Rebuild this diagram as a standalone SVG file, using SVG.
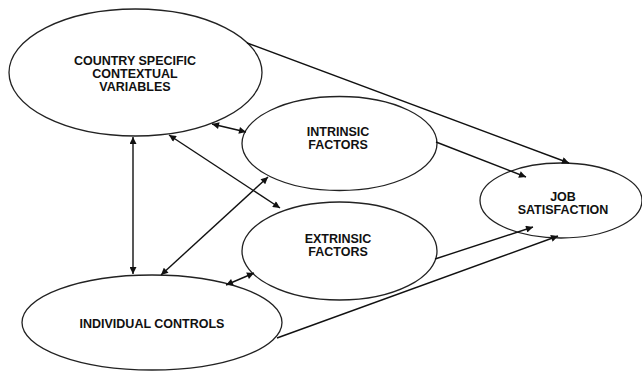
<svg xmlns="http://www.w3.org/2000/svg" width="642" height="371" viewBox="0 0 642 371">
<style>
.node ellipse{fill:#fff;stroke:#222;stroke-width:1.3}
.node text{font-family:"Liberation Sans",Arial,sans-serif;font-weight:bold;font-size:12.5px;fill:#111;text-anchor:middle}
.conn line{stroke:#111;stroke-width:1.4;fill:none}
</style>
<defs>
<marker id="ah" viewBox="0 0 10 10" refX="10" refY="5" markerWidth="8" markerHeight="7" markerUnits="userSpaceOnUse" orient="auto-start-reverse">
<path d="M0,0 L10,5 L0,10 z" fill="#111"/>
</marker>
</defs>
<rect width="642" height="371" fill="#fff"/>
<g id="n-country" class="node">
<ellipse cx="135.5" cy="72.5" rx="126.5" ry="63.5"/>
<text x="135" y="65">COUNTRY SPECIFIC</text>
<text x="135" y="78">CONTEXTUAL</text>
<text x="135" y="91">VARIABLES</text>
</g>
<g id="n-intrinsic" class="node">
<ellipse cx="339.5" cy="143.5" rx="97.5" ry="47"/>
<text x="338" y="136">INTRINSIC</text>
<text x="338" y="149">FACTORS</text>
</g>
<g id="n-extrinsic" class="node">
<ellipse cx="339.5" cy="251" rx="97.5" ry="49"/>
<text x="338" y="242.5">EXTRINSIC</text>
<text x="338" y="255.5">FACTORS</text>
</g>
<g id="n-individual" class="node">
<ellipse cx="152" cy="322.5" rx="130" ry="47.5"/>
<text x="152" y="327.5">INDIVIDUAL CONTROLS</text>
</g>
<g id="n-job" class="node">
<ellipse cx="561" cy="200.5" rx="81" ry="37.5"/>
<text x="563" y="201">JOB</text>
<text x="563" y="214">SATISFACTION</text>
</g>
<g id="connectors" class="conn">
<line x1="247" y1="43" x2="569" y2="163" marker-end="url(#ah)"/>
<line x1="436" y1="142" x2="526" y2="177" marker-end="url(#ah)"/>
<line x1="212" y1="124" x2="246" y2="132" marker-start="url(#ah)" marker-end="url(#ah)"/>
<line x1="133" y1="137" x2="133" y2="274" marker-start="url(#ah)" marker-end="url(#ah)"/>
<line x1="169" y1="135" x2="280" y2="208" marker-start="url(#ah)" marker-end="url(#ah)"/>
<line x1="268" y1="177" x2="161" y2="275" marker-start="url(#ah)" marker-end="url(#ah)"/>
<line x1="226" y1="285" x2="254" y2="273" marker-start="url(#ah)" marker-end="url(#ah)"/>
<line x1="435" y1="259" x2="533" y2="227" marker-end="url(#ah)"/>
<line x1="277" y1="338" x2="558" y2="236" marker-end="url(#ah)"/>
</g>
</svg>
